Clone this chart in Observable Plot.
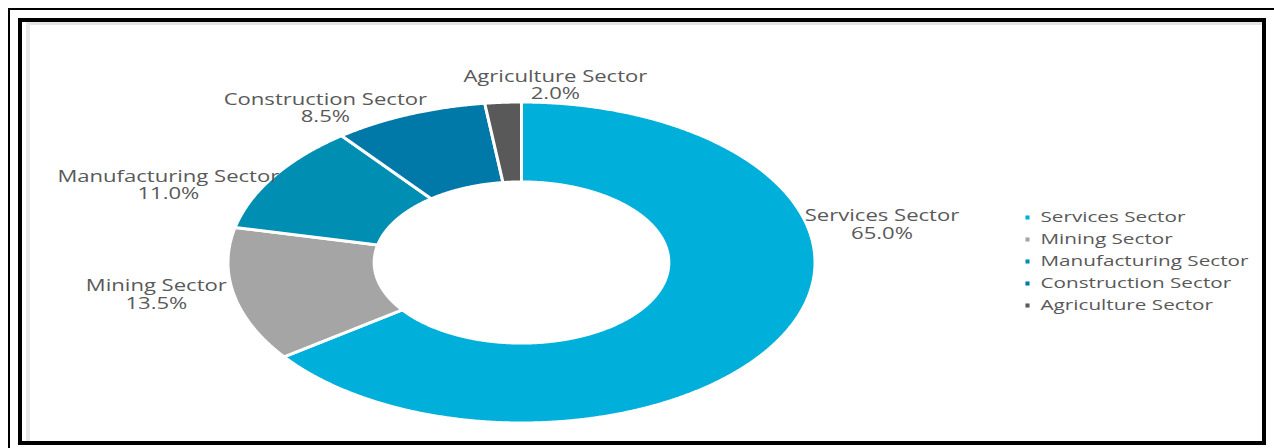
<!DOCTYPE html>
<html>
<head>
<meta charset="utf-8">
<script src="https://cdn.jsdelivr.net/npm/d3@7"></script>
<script src="https://cdn.jsdelivr.net/npm/@observablehq/plot@0.6"></script>
<style>
  html, body { margin: 0; padding: 0; background: #fff; }
  #root { position: relative; width: 1274px; height: 448px; overflow: hidden; background: #fff; }
  .outer { position: absolute; left: 8px; top: 8px; right: 0; bottom: 0; border-top: 2px solid #000; border-left: 2px solid #000; }
  .frame { position: absolute; left: 18px; top: 18px; width: 1240px; height: 419px; border: 4px solid #000; }
  .inner { position: absolute; left: 26px; top: 22px; width: 1236px; height: 419px; box-sizing: border-box;
           border-top: 3px solid #e4e4e4; border-left: 4px solid #e8e8e8; }
  #chart { position: absolute; left: 0; top: 0; }
  #legend { position: absolute; left: 1000px; top: 190px; }
</style>
</head>
<body>
<div id="root">
  <div class="outer"></div>
  <div class="frame"></div>
  <div class="inner"></div>
  <div id="chart"></div>
  <div id="legend"></div>
</div>
<script>
// ---- data ----
const sectors = ["Services Sector", "Mining Sector", "Manufacturing Sector", "Construction Sector", "Agriculture Sector"];
const shares = [65.0, 13.5, 11.0, 8.5, 2.0];
const colors = ["#00b0da", "#a5a5a5", "#008fb3", "#0079a8", "#595959"];
// label offsets (px) from the outer edge at each slice's mid-angle
const labelNudge = [[100.4, -110.3], [-79.1, -0.5], [-106.5, 7.6], [-84.3, -7.9], [52.3, -19.1]];

const FONT = "Open Sans";
const STRETCH = 1.38;
const HOLE = 0.502;

const rows = sectors.map((name, i) => ({name, share: shares[i], nudge: labelNudge[i]}));
const arcs = d3.pie().sort(null).value(d => d.share)(rows);

const poly = [];
for (const a of arcs) {
  const span = a.endAngle - a.startAngle;
  const n = Math.max(2, Math.ceil(span / 0.005));
  const pts = [];
  for (let i = 0; i <= n; i++) {
    const t = a.startAngle + span * i / n;
    pts.push({name: a.data.name, x: Math.sin(t), y: Math.cos(t)});
  }
  for (let i = n; i >= 0; i--) {
    const t = a.startAngle + span * i / n;
    pts.push({name: a.data.name, x: HOLE * Math.sin(t), y: HOLE * Math.cos(t)});
  }
  pts.push({...pts[0]});
  poly.push(...pts);
}

const cx = 521, cy = 262, rx = 293.5, ry = 160.5;

const labelMarks = arcs.map(a => {
  const mid = (a.startAngle + a.endAngle) / 2;
  return Plot.text([a.data], {
    x: () => Math.sin(mid) * 0.995,
    y: () => Math.cos(mid) * 0.99,
    text: d => `${d.name}\n${d.share.toFixed(1)}%`,
    dx: a.data.nudge[0],
    dy: a.data.nudge[1],
    fontSize: 16,
    lineHeight: 1.09,
    fill: "#595959",
    fontFamily: FONT,
    textAnchor: "middle",
    lineAnchor: "middle"
  });
});

const chart = Plot.plot({
  width: 1274,
  height: 448,
  margin: 0,
  style: {background: "transparent", overflow: "visible"},
  x: {domain: [-1, 1], range: [cx - rx, cx + rx], axis: null},
  y: {domain: [-1, 1], range: [cy + ry, cy - ry], axis: null},
  color: {domain: sectors, range: colors},
  marks: [
    Plot.line(poly, {x: "x", y: "y", z: "name", fill: "name", stroke: "#ffffff", strokeWidth: 3, strokeLinejoin: "round"}),
    ...labelMarks
  ]
});

const legend = Plot.plot({
  width: 274,
  height: 140,
  margin: 0,
  style: {background: "transparent", overflow: "visible"},
  x: {domain: [0, 1], range: [27, 274], axis: null},
  y: {type: "point", domain: sectors, range: [26, 116], padding: 0, axis: null},
  color: {domain: sectors, range: colors},
  marks: [
    Plot.dot(sectors, {x: () => 0, y: d => d, symbol: "square", r: 2.3, fill: d => d}),
    Plot.text(sectors, {x: () => 0, y: d => d, dx: 13, text: d => d, textAnchor: "start",
      fontSize: 15, fill: "#595959", fontFamily: FONT})
  ]
});

document.getElementById("chart").appendChild(chart);
document.getElementById("legend").appendChild(legend);

// horizontally widen text glyphs about their anchor (matches the reference's wide lettering)
function stretchText(svg) {
  const NS = "http://www.w3.org/2000/svg";
  Array.from(svg.querySelectorAll("text")).forEach(t => {
    const anchor = t.getAttribute("text-anchor") || (t.parentNode && t.parentNode.getAttribute && t.parentNode.getAttribute("text-anchor")) || "middle";
    const g = document.createElementNS(NS, "g");
    t.parentNode.insertBefore(g, t);
    g.appendChild(t);
    const b = g.getBBox();
    const ax = anchor === "start" ? b.x : anchor === "end" ? b.x + b.width : b.x + b.width / 2;
    g.setAttribute("transform", `translate(${ax},0) scale(${STRETCH},1) translate(${-ax},0)`);
  });
}
stretchText(chart);
stretchText(legend);
</script>
</body>
</html>
